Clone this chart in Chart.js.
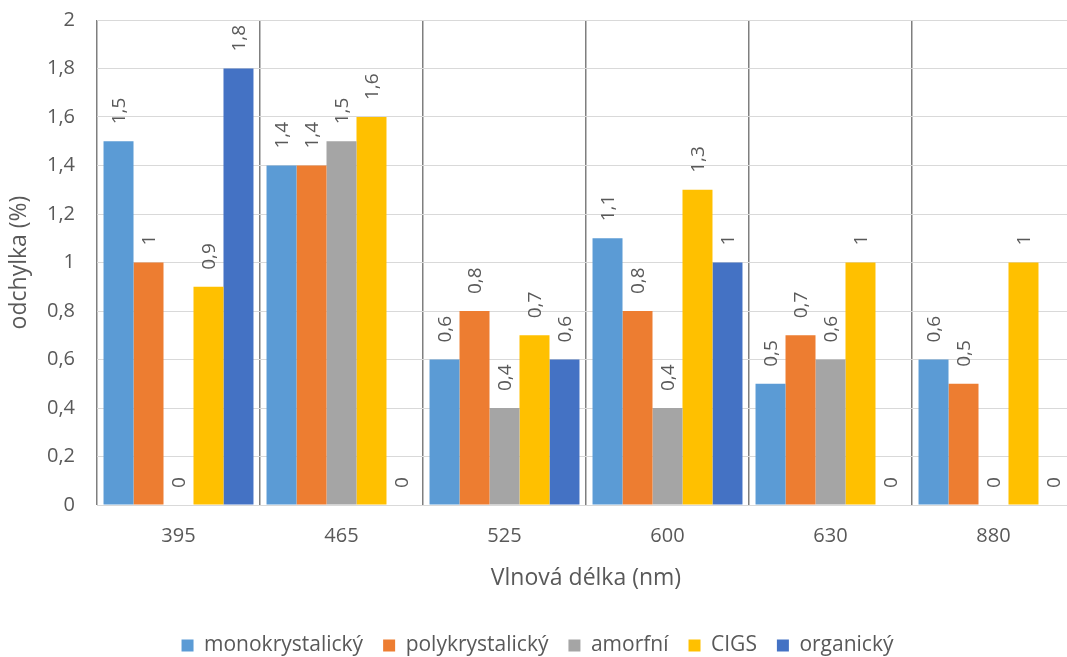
<!DOCTYPE html>
<html lang="cs">
<head>
<meta charset="utf-8">
<title>Odchylka podle vlnové délky</title>
<script src="https://cdn.jsdelivr.net/npm/chart.js@4/dist/chart.umd.min.js"></script>
<style>
  html, body { margin: 0; padding: 0; background: #ffffff; overflow: hidden; }
  #wrap { width: 1082px; height: 670px; }
</style>
</head>
<body>
<div id="wrap"><canvas id="c" width="1082" height="670"></canvas></div>
<script>
// Wavelengths (nm) on the category axis
const wavelengths = ['395', '465', '525', '600', '630', '880'];

// Deviation (%) for each solar-cell technology
const monokrystalicky = [1.5, 1.4, 0.6, 1.1, 0.5, 0.6];
const polykrystalicky = [1.0, 1.4, 0.8, 0.8, 0.7, 0.5];
const amorfni         = [0.0, 1.5, 0.4, 0.4, 0.6, 0.0];
const cigs            = [0.9, 1.6, 0.7, 1.3, 1.0, 1.0];
const organicky       = [1.8, 0.0, 0.6, 1.0, 0.0, 0.0];

const seriesNames = ['monokrystalický', 'polykrystalický', 'amorfní', 'CIGS', 'organický'];
const seriesValues = [monokrystalicky, polykrystalicky, amorfni, cigs, organicky];
const seriesColors = ['#5B9BD5', '#ED7D31', '#A5A5A5', '#FFC000', '#4472C4'];

// Y-axis ticks 0 .. 2 in steps of 0.2
const yMin = 0, yMax = 2, yStep = 0.2;

const FONT = '"Open Sans", "Noto Sans", sans-serif';
const TEXT = '#595959';

const fmt = v => String(Math.round(v * 10) / 10).replace('.', ',');

// Rotated value labels above every bar
const barValueLabels = {
  id: 'barValueLabels',
  afterDatasetsDraw(chart) {
    const ctx = chart.ctx;
    ctx.save();
    ctx.font = '19px ' + FONT;
    ctx.fillStyle = TEXT;
    ctx.textAlign = 'left';
    ctx.textBaseline = 'middle';
    chart.data.datasets.forEach((ds, di) => {
      const meta = chart.getDatasetMeta(di);
      meta.data.forEach((bar, i) => {
        ctx.save();
        ctx.translate(bar.x, bar.y - 17);
        ctx.rotate(-Math.PI / 2);
        ctx.fillText(fmt(ds.data[i]), 0, 1);
        ctx.restore();
      });
    });
    ctx.restore();
  }
};

new Chart(document.getElementById('c'), {
  type: 'bar',
  data: {
    labels: wavelengths,
    datasets: seriesNames.map((name, k) => ({
      label: name,
      data: seriesValues[k],
      backgroundColor: seriesColors[k],
      borderWidth: 0
    }))
  },
  options: {
    responsive: false,
    animation: false,
    devicePixelRatio: 1,
    layout: { padding: { top: 20, right: 7, bottom: 4, left: 0 } },
    datasets: { bar: { barPercentage: 1.0, categoryPercentage: 0.92 } },
    plugins: {
      legend: {
        position: 'bottom',
        labels: {
          boxWidth: 12,
          boxHeight: 12,
          padding: 20,
          color: TEXT,
          font: { family: FONT, size: 21 }
        }
      },
      tooltip: { enabled: false }
    },
    scales: {
      x: {
        offset: true,
        grid: {
          offset: true,
          color: '#7F7F7F',
          lineWidth: 1.5,
          drawTicks: false
        },
        border: { display: true, color: '#D9D9D9', width: 1 },
        ticks: {
          color: TEXT,
          padding: 19,
          font: { family: FONT, size: 20 }
        },
        title: {
          display: true,
          text: 'Vlnová délka (nm)',
          color: TEXT,
          padding: { top: 10, bottom: 23 },
          font: { family: FONT, size: 23 }
        },
        afterFit(scale) {
          scale.height = 110;
          scale.paddingLeft = 0;
          scale.paddingRight = 0;
        }
      },
      y: {
        min: yMin,
        max: yMax,
        grid: { color: '#D9D9D9', lineWidth: 1, drawTicks: false },
        border: { display: false },
        ticks: {
          stepSize: yStep,
          color: TEXT,
          padding: 22,
          font: { family: FONT, size: 20 },
          callback: v => fmt(v)
        },
        title: {
          display: true,
          text: 'odchylka (%)',
          color: TEXT,
          padding: { top: 6, bottom: 4 },
          font: { family: FONT, size: 23 }
        },
        afterFit(scale) {
          scale.width = 97;
          scale.paddingTop = 0;
          scale.paddingBottom = 0;
        }
      }
    }
  },
  plugins: [barValueLabels]
});
</script>
</body>
</html>
